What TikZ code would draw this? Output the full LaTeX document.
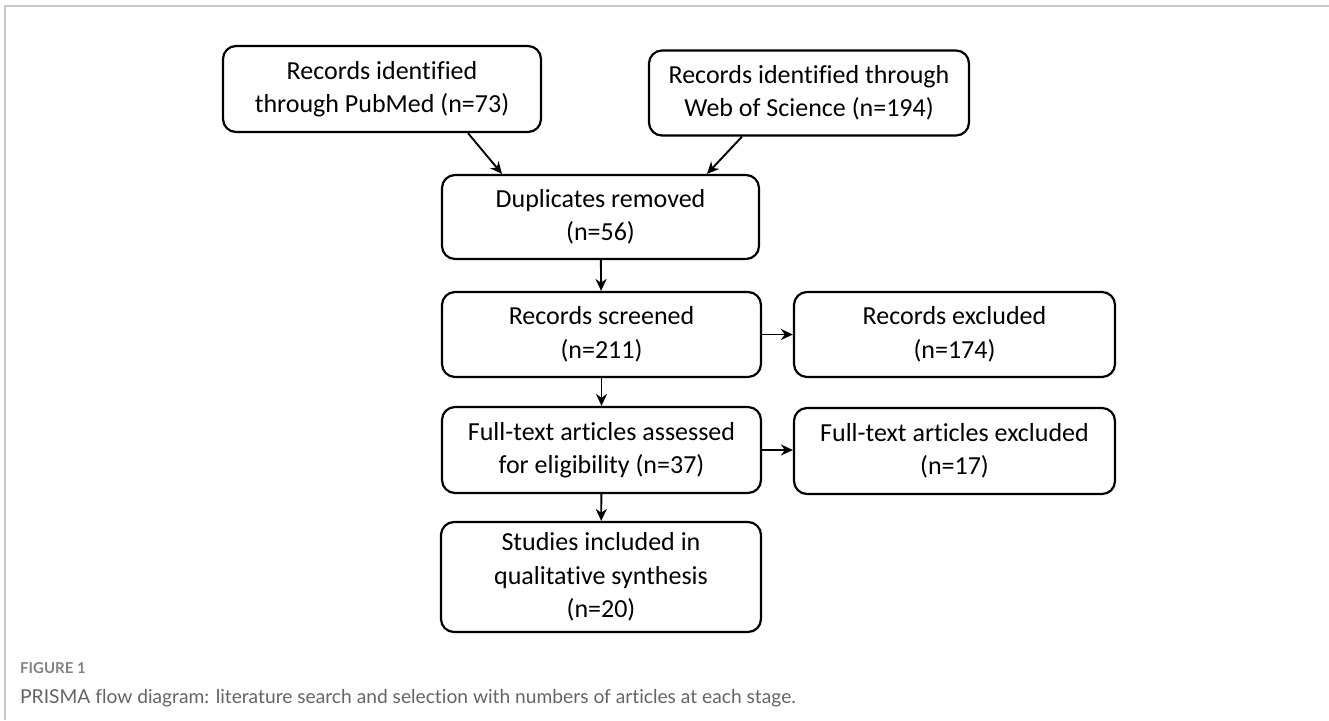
\documentclass[tikz,border=0pt]{standalone}
\usepackage{fontspec}
\setmainfont{Carlito}[Ligatures=NoCommon]
\newfontfamily\capfont{Lato}[Ligatures=NoCommon]
\usetikzlibrary{calc,arrows.meta}
\definecolor{framegray}{RGB}{200,200,200}
\definecolor{capgray}{RGB}{100,100,100}
\definecolor{figgray}{RGB}{130,130,130}
\begin{document}
\begin{tikzpicture}[x=1pt,y=-1pt,
  box/.style={draw=black, line width=2.2pt, rounded corners=13pt, align=center,
    font=\fontsize{26}{33.5}\selectfont, inner sep=0pt},
  arr/.style={line width=1.9pt, -{Stealth[length=12pt,width=11pt]}}]
\useasboundingbox (0,0) rectangle (1329,720);
\draw[framegray, line width=1.5pt] (5,720) -- (5,6) -- (1329,6);
\node[box, minimum width=318pt, minimum height=86pt] (pub) at (382,89) {Records identified\\through PubMed (n=73)};
\node[box, minimum width=320pt, minimum height=85pt] (wos) at (809,93) {Records identified through\\Web of Science (n=194)};
\node[box, minimum width=317pt, minimum height=84pt] (dup) at (600.5,217) {Duplicates removed\\(n=56)};
\node[box, minimum width=319pt, minimum height=85pt] (scr) at (601.5,334.5) {Records screened\\(n=211)};
\node[box, minimum width=321pt, minimum height=85pt] (exc) at (954.5,334.5) {Records excluded\\(n=174)};
\node[box, minimum width=319pt, minimum height=86pt] (ft) at (601.5,450) {Full-text articles assessed\\for eligibility (n=37)};
\node[box, minimum width=321pt, minimum height=86pt] (ftx) at (954.5,451) {Full-text articles excluded\\(n=17)};
\node[box, minimum width=320pt, minimum height=110pt] (stu) at (601,577) {Studies included in\\qualitative synthesis\\(n=20)};
\draw[arr] ($(pub.south)+(86,0)$) -- ($(dup.north)+(-98.5,0)$);
\draw[arr] ($(wos.south)+(-67,0)$) -- ($(dup.north)+(106.5,0)$);
\draw[arr] (dup) -- (scr);
\draw[arr] (scr) -- (ft);
\draw[arr] (ft) -- (stu);
\draw[arr] (scr) -- (exc);
\draw[arr] (ft.east) -- (ft.east -| ftx.west);
\node[anchor=base west, inner sep=0pt, text=figgray, font=\capfont\bfseries\fontsize{15}{17}\selectfont] (fig) at (20,673) {FIGURE 1};
\node[anchor=base west, inner sep=0pt, text=capgray, font=\capfont\fontsize{19.2}{22}\selectfont] (cap) at (20,703) {PRISMA flow diagram: literature search and selection with numbers of articles at each stage.};
\end{tikzpicture}
\end{document}
